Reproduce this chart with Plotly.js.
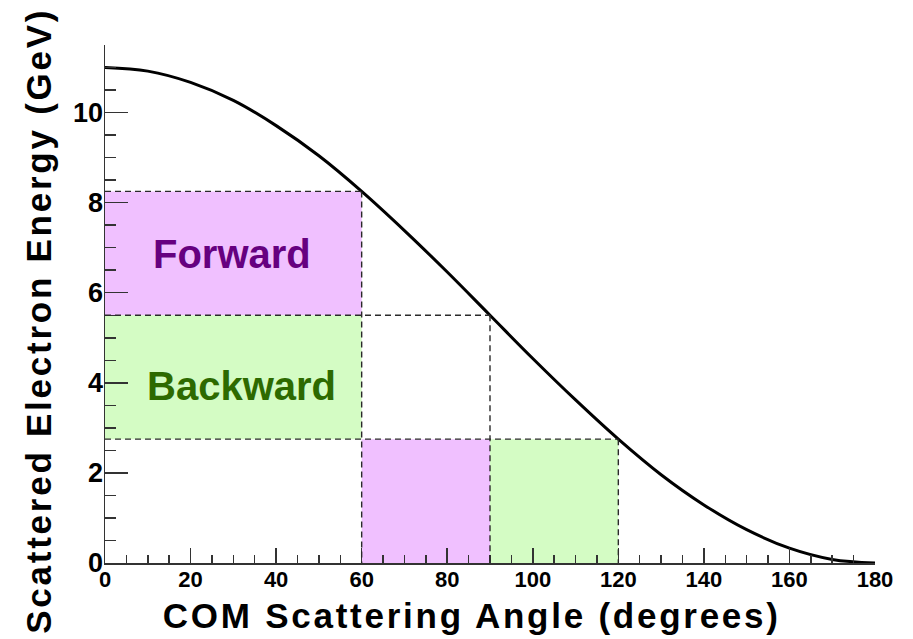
<!DOCTYPE html>
<html>
<head>
<meta charset="utf-8">
<script src="https://cdn.plot.ly/plotly-3.0.1.min.js"></script>
<style>
  html, body { margin: 0; padding: 0; background: #fff; }
  #chart { width: 913px; height: 639px; }
</style>
</head>
<body>
<div id="chart"></div>
<script>
// Scattered electron energy vs. centre-of-mass scattering angle
const angleDeg = [0, 10, 20, 30, 40, 50, 60, 70, 80, 90, 100, 110, 120, 130, 140, 150, 160, 170, 180];
const energyGeV = [11.00, 10.92, 10.67, 10.27, 9.71, 9.04, 8.25, 7.38, 6.46, 5.50, 4.54, 3.62, 2.75, 1.96, 1.29, 0.74, 0.33, 0.08, 0.00];

// Axis tick labels
const xTickVals = [0, 20, 40, 60, 80, 100, 120, 140, 160, 180];
const xTickText = ["0", "20", "40", "60", "80", "100", "120", "140", "160", "180"];
const yTickVals = [0, 2, 4, 6, 8, 10];
const yTickText = ["0", "2", "4", "6", "8", "10"];

// Shaded regions: [x0, x1, y0, y1] and kind
const regionBounds = [
  [0, 60, 5.5, 8.25],
  [0, 60, 2.75, 5.5],
  [60, 90, 0, 2.75],
  [90, 120, 0, 2.75]
];
const regionKind = ["forward", "backward", "forward", "backward"];

// Dashed boundary segments: [x0, y0, x1, y1]
const dashedSegments = [
  [0, 8.25, 60, 8.25],
  [60, 8.25, 60, 0],
  [0, 5.5, 90, 5.5],
  [90, 5.5, 90, 0],
  [0, 2.75, 120, 2.75],
  [120, 2.75, 120, 0]
];

// Region labels
const labelText = ["Forward", "Backward"];
const labelX = [29.6, 31.8];
const labelY = [6.87, 3.93];
const labelKind = ["forward", "backward"];

const xTitle = "COM Scattering Angle (degrees)";
const yTitle = "Scattered Electron Energy (GeV)";

const fillColor = { forward: "#f0c0ff", backward: "#d4fcc4" };
const textColor = { forward: "#660080", backward: "#2d6a00" };

const FONT = "Liberation Sans, Arial, Helvetica, sans-serif";
const bold = s => "<b>" + s + "</b>";

const shapes = [];
regionBounds.forEach((b, i) => {
  shapes.push({
    type: "rect", xref: "x", yref: "y", layer: "below",
    x0: b[0], x1: b[1], y0: b[2], y1: b[3],
    fillcolor: fillColor[regionKind[i]], line: { width: 0 }
  });
});
dashedSegments.forEach(s => {
  shapes.push({
    type: "line", xref: "x", yref: "y", layer: "above",
    x0: s[0], y0: s[1], x1: s[2], y1: s[3],
    line: { color: "#2a2a2a", width: 1.4, dash: "6px,4px" }
  });
});

const annotations = labelText.map((t, i) => ({
  x: labelX[i], y: labelY[i], xref: "x", yref: "y",
  text: bold(t), showarrow: false, xanchor: "center", yanchor: "middle",
  font: { family: FONT, size: 40, color: textColor[labelKind[i]] }
}));

annotations.push({
  x: 0.4766, y: -0.1004, xref: "paper", yref: "paper",
  text: bold(xTitle), showarrow: false,
  xanchor: "center", yanchor: "middle",
  font: { family: FONT, size: 35, color: "#000" }
});
annotations.push({
  x: -0.087, y: 0.467, xref: "paper", yref: "paper",
  text: bold(yTitle), showarrow: false, textangle: -90,
  xanchor: "center", yanchor: "middle",
  font: { family: FONT, size: 35, color: "#000" }
});

const trace = {
  x: angleDeg, y: energyGeV, type: "scatter", mode: "lines",
  line: { color: "#000", width: 3, shape: "spline" },
  hoverinfo: "skip", cliponaxis: false
};

const axisCommon = {
  showgrid: false, zeroline: false,
  showline: true, linecolor: "#333", linewidth: 1.5,
  ticks: "inside", tickwidth: 1.5, tickcolor: "#333",
  tickmode: "array"
};

const layout = {
  width: 913, height: 639,
  margin: { l: 105, r: 38, t: 45, b: 76 },
  paper_bgcolor: "#fff", plot_bgcolor: "#fff",
  showlegend: false,
  xaxis: Object.assign({}, axisCommon, {
    range: [0, 180],
    tickvals: xTickVals, ticktext: xTickText.map(bold),
    ticklen: 15,
    minor: { tickmode: "linear", tick0: 0, dtick: 5, ticks: "inside", ticklen: 8, tickwidth: 1.5, tickcolor: "#333" },
    tickfont: { family: FONT, size: 22, color: "#000" },
    ticklabelstandoff: -4
  }),
  yaxis: Object.assign({}, axisCommon, {
    range: [0, 11.5],
    tickvals: yTickVals, ticktext: yTickText.map(bold),
    ticklen: 23,
    minor: { tickmode: "linear", tick0: 0, dtick: 0.5, ticks: "inside", ticklen: 11, tickwidth: 1.5, tickcolor: "#333" },
    tickfont: { family: FONT, size: 27, color: "#000" },
    ticklabelstandoff: -5
  }),
  shapes: shapes,
  annotations: annotations
};

Plotly.newPlot("chart", [trace], layout, { displayModeBar: false, staticPlot: true }).then(gd => {
  // Wide tracking on the two axis titles
  gd.querySelectorAll(".annotation-text").forEach(el => {
    const t = el.textContent;
    if (t === xTitle || t === yTitle) el.style.letterSpacing = "2.75px";
  });
});
</script>
</body>
</html>
